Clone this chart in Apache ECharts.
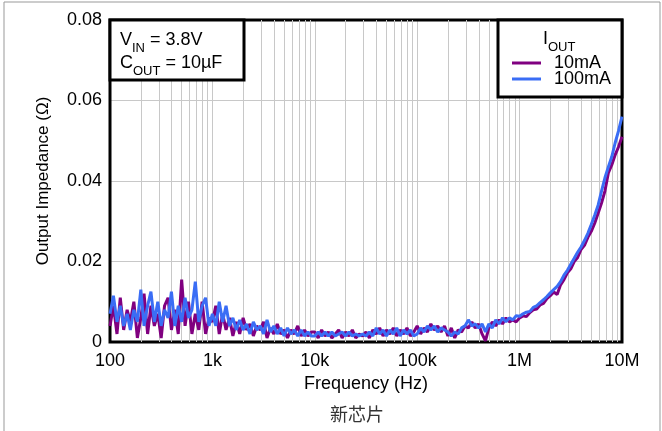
<!DOCTYPE html>
<html>
<head>
<meta charset="utf-8">
<script src="https://cdn.jsdelivr.net/npm/echarts@6/dist/echarts.min.js"></script>
<style>
html,body{margin:0;padding:0;background:#fff;}
#c{width:662px;height:431px;}
</style>
</head>
<body>
<div id="c"></div>
<script>
// Frequency sweep points (Hz)
const freq = [
100,108,117,126,136,147,158,171,185,200,215,233,251,271,293,316,341,369,398,430,464,501,541,584,631,681,736,794,858,926,
1000,1080,1166,1259,1359,1468,1585,1711,1848,1995,2154,2326,2512,2712,2929,3162,3415,3687,3981,4299,4642,5012,5412,5843,6310,6813,7356,7943,8577,9261,
10000,10800,11660,12590,13590,14680,15850,17110,18480,19950,21540,23260,25120,27120,29290,31620,34150,36870,39810,42990,46420,50120,54120,58430,63100,68130,73560,79430,85770,92610,
100000,108000,116600,125900,135900,146800,158500,171100,184800,199500,215400,232600,251200,271200,292900,316200,341500,368700,398100,429900,464200,501200,541200,584300,631000,681300,735600,794300,857700,926100,
1000000,1080000,1166000,1259000,1359000,1468000,1585000,1711000,1848000,1995000,2154000,2326000,2512000,2712000,2929000,3162000,3415000,3687000,3981000,4299000,4642000,5012000,5412000,5843000,6310000,6813000,7356000,7943000,8577000,9261000,10000000
];
// Output impedance, milliohm
const z10mA = [
4,9,2,11,3,8,5,10,1,6,12,2,9,4,7,1,9,11,3,8,2,15.5,4,10,2,7,3,10,2,6,
5,9,2,7,3,6,1.5,5,2,6,3,4.5,1.5,4,3,5,1,3.5,2,4.5,2,3,1,3,2,4,1.5,3,1.5,2.5,
2.5,1,3,1.5,2.5,1,2,3,1,2.5,1.5,3,1,2,1.5,2.5,1,3,2,3.5,1.5,3,2,3.5,1.5,3,2,3.5,1.5,2.5,
4,2,3.5,2.5,4.5,3,4,2.5,4,1.5,3.5,1,3,2.5,4,3.5,5,3.5,4.5,2,0.3,3.5,5,4,5.5,4.5,6,5,5.5,5,
6.0,6.5,6.3,7.3,8.0,8.2,9.2,9.6,10.8,11.5,12.4,11.8,14.2,15.5,17.2,18.2,20.0,21.0,23.0,24.0,26.0,27.5,29.5,32.0,34.5,37.5,42.0,44.0,46.5,48.5,51
];
const z100mA = [
7,11.5,5,9,4,7,3,8,5,13,4,9,12.5,5,10,4,8,6,12.5,4,9,5,11,6,8,15,5,9,11,4,
7,4,10,5,9,4,6,3,5.5,3,4.5,2,5,3,4,2,5.5,2.5,4,2,3.5,1.5,3.5,2,3,1.5,3,1.5,2.5,1.5,
1.5,2.5,1.5,2.5,1.5,2.5,1.5,2,2.5,1.5,2.5,1.5,2,1.5,2,1.5,2.5,1.5,3.5,2,3,1.5,3,2,3.5,1.5,3,2,3,1.5,
2,3.5,2.5,4,3,4,2.5,3.5,3,2.5,1.5,2.5,2,3.5,4,5.5,4,4.5,3.5,4.5,2.5,4.5,3.5,5.5,4.5,6,5,6,5.5,6.5,
6.4,7.0,7.4,7.6,8.6,9.0,9.8,10.5,11.3,12.2,13.0,13.8,15.0,16.6,17.8,19.3,20.8,22.3,23.6,25.2,27.0,29.2,31.5,34.0,37.5,40.8,43.5,46.0,49.5,52.5,56
];
const seriesNames = ['10mA', '100mA'];
const xTickLabels = {100:'100',1000:'1k',10000:'10k',100000:'100k',1000000:'1M',10000000:'10M'};
const yTicks = [0, 0.02, 0.04, 0.06, 0.08];

const FONT = 'Liberation Sans, Arial, sans-serif';
const purple = '#800080';
const blue = '#3a6df5';

const toPairs = arr => freq.map((f, i) => [f, arr[i] / 1000]);

// minor log grid positions
const minorLines = [];
[100, 1000, 10000, 100000, 1000000].forEach(d => {
  for (let m = 2; m <= 9; m++) minorLines.push({xAxis: m * d});
});

const chart = echarts.init(document.getElementById('c'), null, {renderer: 'canvas'});
chart.setOption({
  animation: false,
  backgroundColor: '#fff',
  grid: {left: 110, right: 40, top: 20, bottom: 89, show: true, borderColor: '#000', borderWidth: 3, z: 3},
  xAxis: {
    type: 'log', logBase: 10, min: 100, max: 10000000,
    axisLine: {show: false},
    axisTick: {show: false},
    axisLabel: {fontFamily: FONT, fontSize: 18, color: '#000', margin: 10,
      formatter: v => xTickLabels[Math.round(v)] || ''},
    splitLine: {show: true, lineStyle: {color: '#c8c8c8', width: 1}},
    name: 'Frequency (Hz)', nameLocation: 'middle', nameGap: 32,
    nameTextStyle: {fontFamily: FONT, fontSize: 18, color: '#000'}
  },
  yAxis: {
    type: 'value', min: yTicks[0], max: yTicks[yTicks.length - 1], interval: 0.02,
    axisLine: {show: false},
    axisTick: {show: false},
    axisLabel: {fontFamily: FONT, fontSize: 18, color: '#000', margin: 8,
      formatter: v => v === 0 ? '0' : v.toFixed(2)},
    splitLine: {show: true, lineStyle: {color: '#c8c8c8', width: 1}},
    name: 'Output Impedance (Ω)', nameLocation: 'middle', nameGap: 58,
    nameTextStyle: {fontFamily: FONT, fontSize: 17, color: '#000'}
  },
  legend: {
    data: seriesNames, orient: 'vertical', left: 507, top: 49, z: 120,
    icon: 'rect', itemWidth: 29, itemHeight: 3, itemGap: -2,
    textStyle: {fontFamily: FONT, fontSize: 18, color: '#000', padding: [0, 0, 0, 8]}
  },
  series: [
    {type: 'line', data: [], silent: true, z: 1,
      markLine: {silent: true, symbol: 'none', label: {show: false},
        lineStyle: {color: '#c8c8c8', width: 1, type: 'solid'},
        emphasis: {disabled: true}, data: minorLines}},
    {name: seriesNames[0], type: 'line', data: toPairs(z10mA), showSymbol: false, z: 5,
      lineStyle: {color: purple, width: 3}, itemStyle: {color: purple}},
    {name: seriesNames[1], type: 'line', data: toPairs(z100mA), showSymbol: false, z: 6,
      lineStyle: {color: blue, width: 3}, itemStyle: {color: blue}}
  ],
  graphic: [
    {type: 'rect', z: 0, shape: {x: 4, y: 2, width: 656, height: 440},
      style: {fill: 'none', stroke: '#999', lineWidth: 1}},
    {type: 'rect', z: 100, shape: {x: 110, y: 20, width: 134, height: 60},
      style: {fill: '#fff', stroke: '#000', lineWidth: 3}},
    {type: 'text', z: 101, left: 120, top: 31,
      style: {text: '{n|V}{s|IN}{n| = 3.8V}\n{n|C}{s|OUT}{n| = 10µF}',
        font: '18px ' + FONT, fill: '#000',
        rich: {n: {fontSize: 18, fontFamily: FONT, lineHeight: 23},
               s: {fontSize: 13, fontFamily: FONT, lineHeight: 23, verticalAlign: 'bottom', padding: [0,0,-3,0]}}}},
    {type: 'rect', z: 100, shape: {x: 498, y: 20, width: 124, height: 77},
      style: {fill: '#fff', stroke: '#000', lineWidth: 3}},
    {type: 'text', z: 101, left: 543, top: 30,
      style: {text: '{n|I}{s|OUT}', font: '18px ' + FONT, fill: '#000',
        rich: {n: {fontSize: 18, fontFamily: FONT, lineHeight: 23},
               s: {fontSize: 13, fontFamily: FONT, lineHeight: 23, verticalAlign: 'bottom', padding: [0,0,-3,0]}}}},
    {type: 'text', z: 101, left: 330, top: 405,
      style: {text: '新芯片', font: '18px "Noto Sans CJK SC"', fill: '#333'}}
  ]
});
</script>
</body>
</html>
